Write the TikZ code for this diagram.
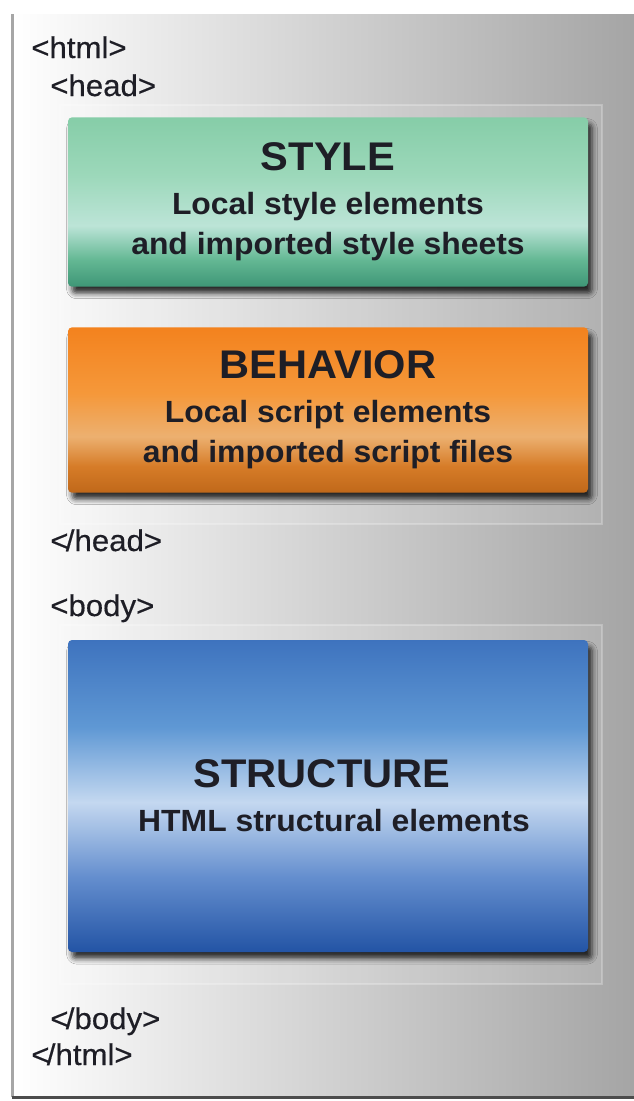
\documentclass[tikz,border=0pt]{standalone}
\usepackage{fontspec}
\setmainfont{Liberation Sans}
\newfontfamily\tagfont[FakeStretch=1.04, FakeBold=0.4]{Liberation Sans}
\newfontfamily\layerfont[FakeStretch=1.04]{Liberation Sans}
\usepackage{xcolor}
\usetikzlibrary{positioning, shadows.blur}

% colours of the three layers
\definecolor{styletop}{RGB}{134,205,168}
\definecolor{stylemid}{RGB}{156,216,186}
\definecolor{stylelight}{RGB}{188,228,215}
\definecolor{stylelow}{RGB}{100,184,148}
\definecolor{stylebot}{RGB}{62,150,118}
\definecolor{behavtop}{RGB}{243,130,30}
\definecolor{behavmid}{RGB}{245,152,58}
\definecolor{behavlight}{RGB}{236,176,112}
\definecolor{behavlow}{RGB}{214,124,40}
\definecolor{behavbot}{RGB}{192,104,26}
\definecolor{structtop}{RGB}{62,115,190}
\definecolor{structmid}{RGB}{95,152,212}
\definecolor{structlight}{RGB}{196,216,240}
\definecolor{structlow}{RGB}{100,142,206}
\definecolor{structbot}{RGB}{35,84,165}
\definecolor{inktext}{RGB}{30,30,38}

\pgfdeclareverticalshading{stylegrad}{100bp}{color(0bp)=(stylebot); color(25bp)=(stylebot);
  color(33bp)=(stylelow); color(43bp)=(stylelight); color(58bp)=(stylemid); color(75bp)=(styletop); color(100bp)=(styletop)}
\pgfdeclareverticalshading{behavgrad}{100bp}{color(0bp)=(behavbot); color(25bp)=(behavbot);
  color(33bp)=(behavlow); color(42bp)=(behavlight); color(55bp)=(behavmid); color(75bp)=(behavtop); color(100bp)=(behavtop)}
\pgfdeclareverticalshading{structgrad}{100bp}{color(0bp)=(structbot); color(25bp)=(structbot);
  color(37bp)=(structlow); color(49bp)=(structlight); color(61bp)=(structmid); color(75bp)=(structtop); color(100bp)=(structtop)}

\begin{document}
\begin{tikzpicture}[
        x=0.75pt, y=-0.75pt,
        every node/.style={align=center, text=inktext},
        tag/.style={anchor=base west, inner sep=0pt, font=\tagfont\fontsize{22.5pt}{26pt}\selectfont},
        layer/.style={rectangle, rounded corners=3pt, minimum width=390pt,
            font=\layerfont\bfseries\fontsize{23pt}{30pt}\selectfont,
            blur shadow={shadow xshift=3pt, shadow yshift=-5pt, shadow blur radius=4pt, shadow opacity=80}},
        region/.style={fill=white, fill opacity=0.1, draw=white, draw opacity=0.25, line width=0.8pt}
    ]
    \useasboundingbox (0,0) rectangle (633,1101);

    % Page frame
    \fill[left color=white, right color=black!36] (12,14) rectangle (645,1097);
    \draw[black!35, line width=1.6pt] (12.5,14) -- (12.5,1097);
    \draw[black!70, line width=2pt] (12,1097.5) -- (645,1097.5);

    % Head and body regions
    \path[region] (60,105) rectangle (602,524);
    \path[region] (60,625) rectangle (602,984);

    % Tags
    \node[tag] (htmlopen) at (31,58) {<html>};
    \node[tag] (headopen) at (50,96) {<head>};
    \node[tag] (headclose) at (50,551) {<\kern-2pt/head>};
    \node[tag] (bodyopen) at (50,616) {<body>};
    \node[tag] (bodyclose) at (50,1029) {<\kern-2pt/body>};
    \node[tag] (htmlclose) at (31,1065) {<\kern-2pt/html>};

    % Layers
    \node[layer, shading=stylegrad, minimum height=127pt] (style) at (328,202) {{\fontsize{30pt}{34pt}\selectfont STYLE}\\[3pt]Local style elements\\and imported style sheets};
    \node[layer, shading=behavgrad, minimum height=124pt] (behavior) at (328,410) {{\fontsize{30pt}{34pt}\selectfont BEHAVIOR}\\[3pt]Local script elements\\and imported script files};
    \node[layer, shading=structgrad, minimum height=234pt] (structure) at (328,796) {{\fontsize{30pt}{34pt}\selectfont STRUCTURE}\rule{9pt}{0pt}\\[3pt]\rule{9pt}{0pt}HTML structural elements};

\end{tikzpicture}
\end{document}
